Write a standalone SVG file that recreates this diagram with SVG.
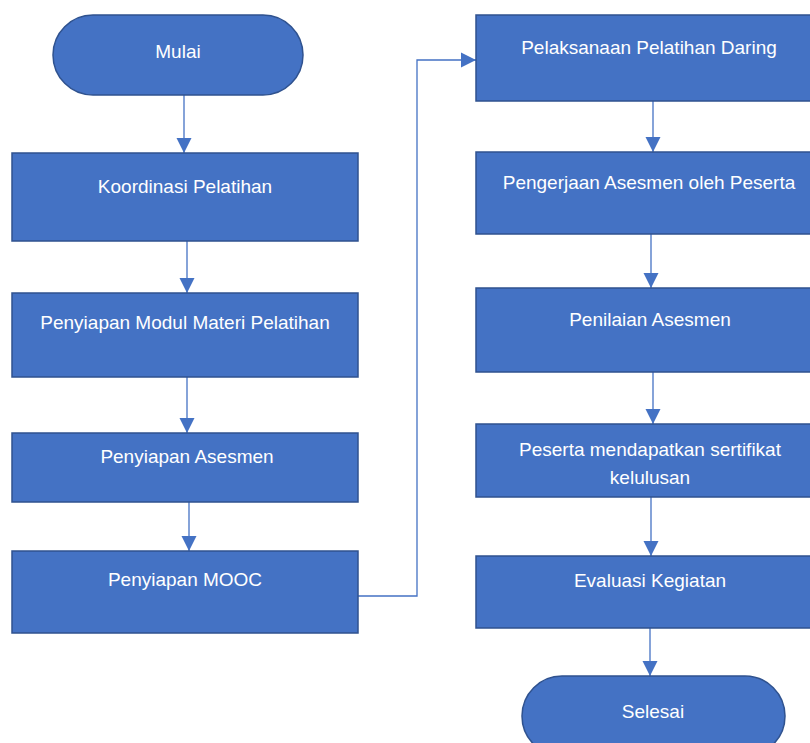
<svg xmlns="http://www.w3.org/2000/svg" width="810" height="743" viewBox="0 0 810 743">
<style>
.n{fill:#4472C4;stroke:#2F528F;stroke-width:1.5}
.t{fill:#ffffff;font-family:"Liberation Sans",Arial,sans-serif;font-size:19px;text-anchor:middle}
.c{fill:none;stroke:#4472C4;stroke-width:1.3;marker-end:url(#ah)}
</style>
<defs>
<marker id="ah" markerUnits="userSpaceOnUse" markerWidth="16" markerHeight="16" viewBox="0 0 16 16" refX="15" refY="8" orient="auto">
<path d="M0,0.5 L15,8 L0,15.5 Z" fill="#4472C4"/>
</marker>
</defs>
<rect width="810" height="743" fill="#ffffff"/>
<g id="connectors">
<path class="c" d="M184,95 V153"/>
<path class="c" d="M187,241 V293"/>
<path class="c" d="M187,377 V433"/>
<path class="c" d="M189,502 V551"/>
<path class="c" d="M358,596 H417 V60 H476"/>
<path class="c" d="M653,101 V152"/>
<path class="c" d="M651,234 V288"/>
<path class="c" d="M653,372 V424"/>
<path class="c" d="M651,497 V556"/>
<path class="c" d="M650,628 V676"/>
</g>
<g id="mulai"><rect class="n" x="53" y="15" width="250" height="80" rx="40"/><text class="t" x="178" y="58">Mulai</text></g>
<g id="koordinasi"><rect class="n" x="12" y="153" width="346" height="88"/><text class="t" x="185" y="193">Koordinasi Pelatihan</text></g>
<g id="modul"><rect class="n" x="12" y="293" width="346" height="84"/><text class="t" x="185" y="329">Penyiapan Modul Materi Pelatihan</text></g>
<g id="asesmen"><rect class="n" x="12" y="433" width="346" height="69"/><text class="t" x="187" y="463">Penyiapan Asesmen</text></g>
<g id="mooc"><rect class="n" x="12" y="551" width="346" height="82"/><text class="t" x="185" y="586">Penyiapan MOOC</text></g>
<g id="pelaksanaan"><rect class="n" x="476" y="15" width="346" height="86"/><text class="t" x="649" y="54">Pelaksanaan Pelatihan Daring</text></g>
<g id="pengerjaan"><rect class="n" x="476" y="152" width="346" height="82"/><text class="t" x="649" y="189">Pengerjaan Asesmen oleh Peserta</text></g>
<g id="penilaian"><rect class="n" x="476" y="288" width="346" height="84"/><text class="t" x="650" y="326">Penilaian Asesmen</text></g>
<g id="sertifikat"><rect class="n" x="476" y="424" width="346" height="73"/><text class="t" x="650" y="456">Peserta mendapatkan sertifikat</text><text class="t" x="650" y="484">kelulusan</text></g>
<g id="evaluasi"><rect class="n" x="476" y="556" width="346" height="72"/><text class="t" x="650" y="587">Evaluasi Kegiatan</text></g>
<g id="selesai"><rect class="n" x="522" y="676" width="263" height="80" rx="40"/><text class="t" x="653" y="718">Selesai</text></g>
</svg>
